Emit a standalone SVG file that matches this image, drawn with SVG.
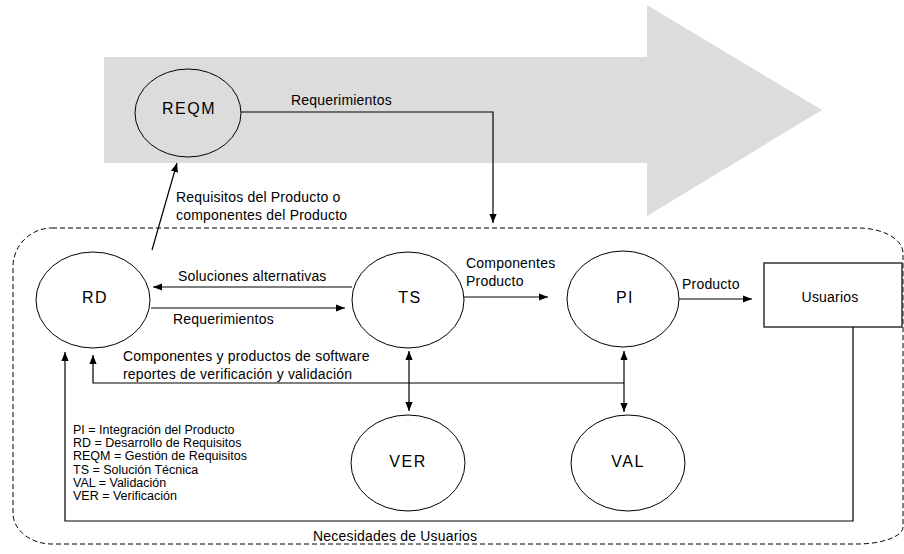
<svg xmlns="http://www.w3.org/2000/svg" width="904" height="554" viewBox="0 0 904 554">
<defs>
<marker id="ah" viewBox="0 0 10 10" refX="10" refY="5" markerWidth="9" markerHeight="9" markerUnits="userSpaceOnUse" orient="auto-start-reverse">
<path d="M0,1 L10,5 L0,9 Z" fill="#000"/>
</marker>
</defs>
<style>
text{font-family:"Liberation Sans",Arial,sans-serif;fill:#000}
.lbl{font-size:14px;letter-spacing:0.2px}
.node{font-size:16px;letter-spacing:1.5px;text-anchor:middle}
.leg{font-size:12.5px}
.el{fill:none;stroke:#000;stroke-width:1}
.ca{fill:none;stroke:#000;stroke-width:1.2;marker-end:url(#ah)}
.cb{fill:none;stroke:#000;stroke-width:1.2;marker-end:url(#ah);marker-start:url(#ah)}
</style>
<rect width="904" height="554" fill="#fff"/>
<polygon id="bigarrow" points="104,57 647,57 647,5 822,110 647,216 647,163 104,163" fill="#dcdcdc"/>
<path id="boundary" d="M52,228 H858 A45 25 0 0 1 903,253 V527 A46 17 0 0 1 857,544 H52 A39 31 0 0 1 13,513 V267 A39 39 0 0 1 52,228 Z" fill="none" stroke="#000" stroke-width="1" stroke-dasharray="5,3"/>
<g id="REQM"><ellipse class="el" cx="188" cy="113" rx="53" ry="44"/><text class="node" x="189" y="114">REQM</text></g>
<g id="RD"><ellipse class="el" cx="93" cy="300" rx="57" ry="48"/><text class="node" x="95" y="303">RD</text></g>
<g id="TS"><ellipse class="el" cx="408" cy="300" rx="56" ry="48"/><text class="node" x="410" y="303">TS</text></g>
<g id="PI"><ellipse class="el" cx="623" cy="299" rx="56" ry="48"/><text class="node" x="625" y="303">PI</text></g>
<g id="VER"><ellipse class="el" cx="408" cy="463" rx="57" ry="48"/><text class="node" x="408" y="467">VER</text></g>
<g id="VAL"><ellipse class="el" cx="628" cy="463" rx="57" ry="48"/><text class="node" x="628" y="467">VAL</text></g>
<g id="Usuarios"><rect x="764" y="263" width="138" height="64" fill="#fff" stroke="#333" stroke-width="1.5"/><text class="lbl" x="830" y="302" text-anchor="middle">Usuarios</text></g>
<g id="connectors">
<polyline class="ca" points="241,112 493,112 493,223"/>
<line class="ca" x1="152" y1="250" x2="177" y2="163"/>
<line class="ca" x1="352" y1="287" x2="153" y2="287"/>
<line class="ca" x1="151" y1="308" x2="345" y2="308"/>
<line class="ca" x1="464" y1="297" x2="548" y2="297"/>
<line class="ca" x1="679" y1="299" x2="752" y2="299"/>
<polyline class="ca" points="624,383 93,383 93,355"/>
<polyline class="ca" points="853,327 853,521 65,521 65,352"/>
<line class="cb" x1="409" y1="351" x2="409" y2="411"/>
<line class="cb" x1="624" y1="351" x2="624" y2="412"/>
</g>
<g id="labels">
<text class="lbl" x="291" y="105">Requerimientos</text>
<text class="lbl" x="176" y="202">Requisitos del Producto o</text>
<text class="lbl" x="176" y="220">componentes del Producto</text>
<text class="lbl" x="178" y="281">Soluciones alternativas</text>
<text class="lbl" x="173" y="324">Requerimientos</text>
<text class="lbl" x="466" y="268">Componentes</text>
<text class="lbl" x="466" y="286">Producto</text>
<text class="lbl" x="682" y="289">Producto</text>
<text class="lbl" x="123" y="361">Componentes y productos de software</text>
<text class="lbl" x="123" y="379">reportes de verificación y validación</text>
<text class="lbl" x="313" y="541">Necesidades de Usuarios</text>
</g>
<g id="legend">
<text class="leg" x="73" y="434">PI = Integración del Producto</text>
<text class="leg" x="73" y="447">RD = Desarrollo de Requisitos</text>
<text class="leg" x="73" y="460">REQM = Gestión de Requisitos</text>
<text class="leg" x="73" y="474">TS = Solución Técnica</text>
<text class="leg" x="73" y="487">VAL = Validación</text>
<text class="leg" x="73" y="500">VER = Verificación</text>
</g>
</svg>
